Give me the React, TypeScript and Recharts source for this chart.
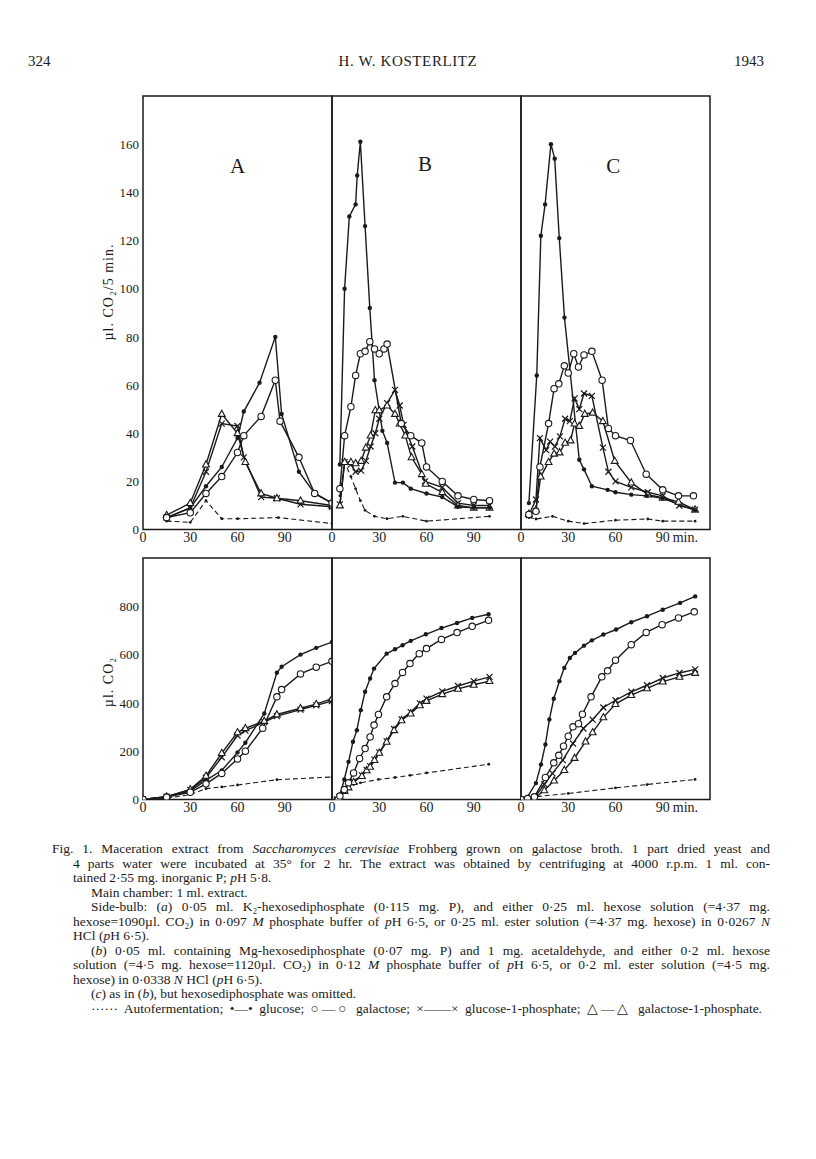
import React from "react";
import { LineChart, Line, XAxis, YAxis, ReferenceArea, ReferenceDot } from "recharts";

type Pt = [number, number];
type Kind = "auto" | "glucose" | "galactose" | "g1p" | "gal1p";

// shared axes
const TIME_TICKS = [0, 30, 60, 90];
const INNER_TIME_TICKS = [30, 60, 90];
const RATE_TICKS = [0, 20, 40, 60, 80, 100, 120, 140, 160];
const TOTAL_TICKS = [0, 200, 400, 600, 800];

// upper row: µl. CO2 / 5 min   [min, value]
const rateA_auto: Pt[] = [[15, 3.5], [30, 3], [40, 12], [50, 4.5], [60, 4.5], [86, 5], [120, 2.5]];
const rateA_glucose: Pt[] = [[15, 5], [30, 9], [40, 18], [50, 26], [60, 38], [64, 49], [74, 61], [84, 80], [88, 48], [99, 24], [109, 15], [120, 11]];
const rateA_galactose: Pt[] = [[15, 5], [30, 7], [40, 15], [50, 22], [60, 32], [64, 39], [75, 47], [84, 62], [87, 45], [99, 30], [109, 15], [120, 11]];
const rateA_g1p: Pt[] = [[15, 5], [30, 9], [40, 24], [50, 44], [60, 43], [64, 30], [75, 13.5], [85, 13], [100, 10.5], [120, 9.5]];
const rateA_gal1p: Pt[] = [[15, 6], [30, 11], [40, 27], [50, 48], [60, 40], [65, 28], [75, 15], [85, 13], [100, 12], [120, 10]];

const rateB_auto: Pt[] = [[5, 14], [8, 28], [12, 22], [15, 17], [18, 12], [21, 8], [27, 5.5], [35, 4.5], [45, 5.5], [60, 3.5], [100, 5.5]];
const rateB_glucose: Pt[] = [[5, 27], [8, 100], [11, 130], [15, 135], [16, 147], [18, 161], [21, 126], [24, 92], [27, 62], [32, 41], [35, 36], [40, 19.5], [45, 19.5], [50, 17], [60, 15], [70, 13.5], [80, 9.5], [90, 9], [100, 9]];
const rateB_galactose: Pt[] = [[5, 17], [8, 39], [12, 51], [15, 64], [18, 73], [21, 74], [24, 78], [27, 75], [30, 73], [33, 75], [35, 77], [44, 44], [50, 39], [57, 36], [60, 26], [70, 20], [80, 14], [90, 12.5], [100, 12]];
const rateB_g1p: Pt[] = [[5, 10.5], [8, 28], [12, 27], [15, 24], [18.5, 24.5], [21.5, 28.5], [24.5, 34.5], [27.5, 40], [30, 46], [35, 52.5], [40, 58], [43, 51.5], [45.5, 43.5], [51, 34.5], [59, 20], [70, 17.5], [80, 11], [90, 10], [100, 10]];
const rateB_gal1p: Pt[] = [[5, 10], [8, 28], [12, 28], [15, 27.5], [18.5, 28.5], [21.5, 34], [24.5, 39], [27.5, 49.5], [30, 49.5], [35, 51.5], [40, 48], [43, 44], [46.5, 39], [50.5, 30], [57, 23], [59.5, 19], [70, 15.5], [80, 10], [90, 9], [100, 9]];

const rateC_auto: Pt[] = [[5, 5], [9.5, 4.4], [20, 5.5], [30, 3.5], [40, 2.5], [60, 3.9], [80.5, 4.4], [90, 3.5], [110.5, 3.5]];
const rateC_glucose: Pt[] = [[5, 11], [10, 64], [12.6, 122], [15.3, 135], [19, 160], [21.4, 154], [24.3, 121], [27.6, 88], [37, 29], [40, 25], [45, 18], [55, 16.5], [60, 15.5], [70, 14.5], [80, 14], [90, 13], [110.5, 8]];
const rateC_galactose: Pt[] = [[5, 6.3], [9.5, 7.6], [12, 26], [17.5, 44], [21, 58.5], [24, 60.5], [27.5, 68], [30, 65], [33.5, 73], [36.5, 67.5], [40, 72.5], [45, 74], [51.5, 62], [55.5, 42], [60, 39], [69.5, 37], [79.5, 23], [90, 16.5], [100, 14], [109.5, 14]];
const rateC_g1p: Pt[] = [[5, 6], [9.5, 12.5], [12, 38], [16, 33], [18.5, 36.5], [21.6, 34.5], [24.7, 38.7], [28, 46], [31, 45], [34, 54.5], [37, 50], [40, 56.5], [45, 55.5], [52, 34], [55.5, 24], [60, 20], [70, 17.5], [80.5, 15.5], [90, 14], [100.5, 10], [110.5, 8.3]];
const rateC_gal1p: Pt[] = [[5, 6.5], [9.5, 8.3], [12.5, 22], [17.5, 28], [21, 31.5], [24.5, 32], [28, 36], [31.5, 37], [34, 44], [37, 43], [40.5, 48], [45.5, 48.5], [52, 45], [59.5, 28.5], [70, 19.5], [80.5, 14.5], [90, 13.2], [100, 11.5], [110.5, 8.3]];

// lower row: total µl. CO2
const totalA_auto: Pt[] = [[0, 0], [15, 5], [30, 20], [40, 45], [50, 52], [60, 60], [85, 82], [120, 93]];
const totalA_glucose: Pt[] = [[0, 0], [15, 12], [30, 35], [40, 80], [50, 120], [60, 195], [65, 235], [77, 356], [85, 525], [88, 550], [100, 600], [110, 628], [120, 652]];
const totalA_galactose: Pt[] = [[0, 0], [15, 10], [30, 30], [40, 65], [50, 108], [60, 168], [65, 200], [76, 295], [85, 425], [88, 455], [100, 520], [110, 548], [120, 572]];
const totalA_g1p: Pt[] = [[0, 0], [15, 12], [30, 40], [40, 90], [50, 175], [60, 265], [65, 285], [77, 320], [85, 345], [100, 372], [110, 390], [120, 408]];
const totalA_gal1p: Pt[] = [[0, 0], [15, 12], [30, 42], [40, 98], [50, 192], [60, 278], [65, 295], [77, 325], [85, 352], [100, 378], [110, 395], [120, 418]];

const totalB_auto: Pt[] = [[2, 0], [5, 18], [8, 45], [10.5, 55], [13.7, 62], [18, 69], [29.5, 83], [40, 91], [49.5, 100], [60, 110], [99.5, 146]];
const totalB_glucose: Pt[] = [[3, 0], [4.8, 14], [7.8, 83], [10.5, 156], [13.3, 239], [15.8, 287], [18.3, 370], [21, 446], [24.2, 501], [26.7, 542], [34.7, 604], [40, 622], [44.8, 639], [50, 657], [59.6, 684], [69.5, 710], [79.4, 731], [89, 752], [99.4, 767]];
const totalB_galactose: Pt[] = [[4, 0], [5, 14], [7.8, 41], [10.5, 69], [13.7, 110], [17.5, 170], [21, 211], [24.2, 259], [26.7, 308], [29.5, 352], [34.7, 425], [40, 480], [44.8, 526], [49.5, 563], [55.4, 604], [60, 625], [69.5, 663], [79.4, 691], [89, 717], [99.4, 742]];
const totalB_g1p: Pt[] = [[3, 0], [5, 12], [8, 38], [10.5, 52], [13.7, 74], [19, 100], [22, 122], [24.2, 138], [27, 165], [30, 195], [34.7, 242], [39.4, 292], [44.2, 332], [50, 362], [55.8, 398], [60, 418], [70, 448], [80, 470], [90, 490], [100, 508]];
const totalB_gal1p: Pt[] = [[3, 0], [5, 10], [8, 35], [10.5, 50], [13.7, 72], [19, 97], [22, 121], [24.2, 135], [27, 163], [30, 193], [34.7, 239], [39.4, 287], [44.2, 328], [50, 356], [55.8, 390], [60, 408], [70, 436], [80, 458], [90, 475], [100, 490]];

const totalC_auto: Pt[] = [[0, 0], [10, 12], [30, 25], [60, 48], [80, 62], [110.5, 83]];
const totalC_glucose: Pt[] = [[0, 0], [4, 10], [9.5, 68], [12.7, 145], [15.5, 228], [18, 331], [20.8, 417], [24.4, 490], [27.5, 545], [31, 586], [34.3, 607], [40, 637], [45, 659], [52.3, 683], [60.4, 704], [70, 734], [80, 759], [90, 786], [101, 814], [110.6, 841]];
const totalC_galactose: Pt[] = [[0, 0], [4.2, 4], [8.5, 11], [15.5, 91], [20.8, 152], [24, 183], [27, 221], [30, 262], [33, 301], [36.5, 314], [39, 353], [44.5, 425], [51.3, 508], [55, 533], [60, 577], [70, 641], [79.5, 692], [89.6, 724], [100, 752], [110, 777]];
const totalC_g1p: Pt[] = [[0, 0], [8.5, 7], [14.8, 63], [20, 108], [26.5, 163], [33, 232], [39.6, 294], [45.5, 331], [52.3, 381], [60, 411], [70, 446], [80, 473], [90, 503], [100.6, 524], [110.6, 539]];
const totalC_gal1p: Pt[] = [[0, 0], [8.5, 4], [14.8, 38], [21, 78], [27.5, 122], [34, 172], [41, 240], [45.5, 278], [52.3, 340], [60, 395], [70, 432], [80, 460], [90, 488], [100.6, 508], [110.6, 524]];

const INK = "#1a1a1a";
const FONT = '"Liberation Serif", "Times New Roman", serif';
const PW = 189;
const PAD = 4;
const XH = 22;
const TOP_Y = 96.4;
const TOP_H = 433.6;
const BOT_Y = 557.5;
const BOT_H = 241.5;

const rows = (pts: Pt[]) => pts.map(([t, v]) => ({ t, v }));

const renderDot = (kind: Kind) => (p: any) => {
  const { cx, cy, index } = p;
  const k = `${kind}-${index}`;
  if (cx == null || cy == null) return <g key={k} />;
  if (kind === "glucose") return <circle key={k} cx={cx} cy={cy} r={2.2} fill={INK} />;
  if (kind === "auto") return <circle key={k} cx={cx} cy={cy} r={1.4} fill={INK} />;
  if (kind === "galactose")
    return <circle key={k} cx={cx} cy={cy} r={3.2} fill="#fff" stroke={INK} strokeWidth={1.1} />;
  if (kind === "g1p")
    return (
      <path key={k} d={`M${cx - 3},${cy - 3}L${cx + 3},${cy + 3}M${cx - 3},${cy + 3}L${cx + 3},${cy - 3}`} stroke={INK} strokeWidth={1.2} />
    );
  return (
    <path key={k} d={`M${cx},${cy - 3.8}L${cx + 3.4},${cy + 2.4}L${cx - 3.4},${cy + 2.4}Z`} fill="#fff" stroke={INK} strokeWidth={1.1} />
  );
};

const EmptyTick = () => <g />;

const TimeTick = (p: any) => {
  const { x, y, payload, showMin } = p;
  return (
    <g>
      <text x={x} y={y} dy={12} textAnchor="middle" fontFamily={FONT} fontSize={14} fill={INK}>
        {payload.value}
      </text>
      {showMin && payload.value === 90 && (
        <text x={x + 10} y={y} dy={12} textAnchor="start" fontFamily={FONT} fontSize={14} fill={INK}>
          min.
        </text>
      )}
    </g>
  );
};

type SeriesDef = { kind: Kind; pts: Pt[] };

function Panel(props: {
  plotLeft: number;
  plotTop: number;
  plotH: number;
  yMax: number;
  yTicks: number[];
  series: SeriesDef[];
  labels?: boolean;
  letter?: { text: string; at: Pt };
  showMin?: boolean;
}) {
  const { plotLeft, plotTop, plotH, yMax, yTicks, series, labels, letter, showMin } = props;
  const leftW = labels ? 50 : PAD;
  const inner = yTicks.filter((v) => v > 0);
  const tickLine = { stroke: INK, strokeWidth: 1.3 };
  return (
    <div style={{ position: "absolute", left: plotLeft - leftW, top: plotTop - PAD }}>
      <LineChart
        width={leftW + PW + PAD}
        height={PAD + plotH + XH}
        margin={{ top: PAD, right: PAD, bottom: 0, left: labels ? 0 : PAD }}
      >
        <XAxis xAxisId="t" dataKey="t" type="number" domain={[0, 120]} ticks={TIME_TICKS} interval={0}
          allowDataOverflow height={XH} tickLine={false} axisLine={false} tickSize={0} tickMargin={0}
          tick={<TimeTick showMin={showMin} />} />
        <XAxis xAxisId="top" orientation="top" mirror type="number" domain={[0, 120]} ticks={INNER_TIME_TICKS}
          interval={0} axisLine={false} tickSize={8} tickLine={tickLine} tick={EmptyTick} />
        <XAxis xAxisId="bot" orientation="bottom" mirror type="number" domain={[0, 120]} ticks={INNER_TIME_TICKS}
          interval={0} axisLine={false} tickSize={5} tickLine={tickLine} tick={EmptyTick} />
        <YAxis yAxisId="v" type="number" domain={[0, yMax]} ticks={yTicks} interval={0} allowDataOverflow
          width={labels ? 50 : 0} hide={!labels} tickLine={false} axisLine={false} tickSize={0} tickMargin={4}
          tick={{ fontFamily: FONT, fontSize: 13, fill: INK }} />
        <YAxis yAxisId="l" orientation="left" mirror type="number" domain={[0, yMax]} ticks={inner} interval={0}
          axisLine={false} tickSize={7} tickLine={tickLine} tick={EmptyTick} />
        <YAxis yAxisId="r" orientation="right" mirror type="number" domain={[0, yMax]} ticks={inner} interval={0}
          axisLine={false} tickSize={7} tickLine={tickLine} tick={EmptyTick} />
        <ReferenceArea xAxisId="t" yAxisId="v" x1={0} x2={120} y1={0} y2={yMax} fill="none" fillOpacity={0}
          stroke={INK} strokeWidth={1.5} ifOverflow="visible" />
        {series.map((s, i) => (
          <Line
            key={s.kind + i}
            xAxisId="t"
            yAxisId="v"
            data={rows(s.pts)}
            dataKey="v"
            type="linear"
            stroke={INK}
            strokeWidth={s.kind === "auto" ? 1.1 : 1.4}
            strokeDasharray={s.kind === "auto" ? "5 3" : undefined}
            dot={renderDot(s.kind)}
            activeDot={false}
            isAnimationActive={false}
          />
        ))}
        {letter && (
          <ReferenceDot xAxisId="t" yAxisId="v" x={letter.at[0]} y={letter.at[1]} r={1} fill="none" stroke="none"
            label={{ value: letter.text, position: "center", fontFamily: FONT, fontSize: 21, fill: INK }} />
        )}
      </LineChart>
    </div>
  );
}

const set = (auto: Pt[], g1p: Pt[], gal1p: Pt[], glucose: Pt[], galactose: Pt[]): SeriesDef[] => [
  { kind: "auto", pts: auto },
  { kind: "g1p", pts: g1p },
  { kind: "gal1p", pts: gal1p },
  { kind: "glucose", pts: glucose },
  { kind: "galactose", pts: galactose },
];

const I = (s: string) => <i>{s}</i>;

const CAPTION: { x: number; justify?: boolean; right?: number; content: React.ReactNode }[] = [
  { x: 52, justify: true, content: <>Fig. 1. Maceration extract from {I("Saccharomyces cerevisiae")} Frohberg grown on galactose broth. 1 part dried yeast and</> },
  { x: 73, justify: true, content: <>4 parts water were incubated at 35° for 2 hr. The extract was obtained by centrifuging at 4000 r.p.m. 1 ml. con-</> },
  { x: 73, content: <>tained 2·55 mg. inorganic P; {I("p")}H 5·8.</> },
  { x: 91, content: <>Main chamber: 1 ml. extract.</> },
  { x: 91, justify: true, content: <>Side-bulb: ({I("a")}) 0·05 ml. K₂-hexosediphosphate (0·115 mg. P), and either 0·25 ml. hexose solution (=4·37 mg.</> },
  { x: 73, justify: true, content: <>hexose=1090µl. CO₂) in 0·097 {I("M")} phosphate buffer of {I("p")}H 6·5, or 0·25 ml. ester solution (=4·37 mg. hexose) in 0·0267 {I("N")}</> },
  { x: 73, content: <>HCl ({I("p")}H 6·5).</> },
  { x: 91, justify: true, content: <>({I("b")}) 0·05 ml. containing Mg-hexosediphosphate (0·07 mg. P) and 1 mg. acetaldehyde, and either 0·2 ml. hexose</> },
  { x: 73, justify: true, content: <>solution (=4·5 mg. hexose=1120µl. CO₂) in 0·12 {I("M")} phosphate buffer of {I("p")}H 6·5, or 0·2 ml. ester solution (=4·5 mg.</> },
  { x: 73, content: <>hexose) in 0·0338 {I("N")} HCl ({I("p")}H 6·5).</> },
  { x: 91, content: <>({I("c")}) as in ({I("b")}), but hexosediphosphate was omitted.</> },
  { x: 91, justify: true, right: 762, content: <>······ Autofermentation; •—•&nbsp;glucose; ○—○&nbsp;galactose; ×——×&nbsp;glucose-1-phosphate; △—△&nbsp;galactose-1-phosphate.</> },
];

export default function App() {
  const colL = 143;
  const colB = colL + PW;
  const colC = colB + PW;
  const title: React.CSSProperties = {
    position: "absolute",
    transform: "translate(-50%, -50%) rotate(-90deg)",
    whiteSpace: "nowrap",
    fontSize: 14,
    letterSpacing: 1,
  };
  return (
    <div style={{ position: "absolute", left: 0, top: 0, width: 816, height: 1159, background: "#fff", color: INK, fontFamily: FONT }}>
      {/* running head */}
      <div style={{ position: "absolute", left: 28, top: 53, fontSize: 15 }}>324</div>
      <div style={{ position: "absolute", left: 0, width: 816, top: 53, fontSize: 15, textAlign: "center", letterSpacing: 0.6 }}>
        H. W. KOSTERLITZ
      </div>
      <div style={{ position: "absolute", left: 734, top: 53, fontSize: 15 }}>1943</div>

      {/* axis titles */}
      <div style={{ ...title, left: 109, top: 292 }}>µl. CO₂/5 min.</div>
      <div style={{ ...title, left: 109, top: 682 }}>µl. CO₂</div>

      <Panel plotLeft={colL} plotTop={TOP_Y} plotH={TOP_H} yMax={180} yTicks={RATE_TICKS} labels
        letter={{ text: "A", at: [60, 151] }}
        series={set(rateA_auto, rateA_g1p, rateA_gal1p, rateA_glucose, rateA_galactose)} />
      <Panel plotLeft={colB} plotTop={TOP_Y} plotH={TOP_H} yMax={180} yTicks={RATE_TICKS}
        letter={{ text: "B", at: [59, 152] }}
        series={set(rateB_auto, rateB_g1p, rateB_gal1p, rateB_glucose, rateB_galactose)} />
      <Panel plotLeft={colC} plotTop={TOP_Y} plotH={TOP_H} yMax={180} yTicks={RATE_TICKS} showMin
        letter={{ text: "C", at: [58.5, 151] }}
        series={set(rateC_auto, rateC_g1p, rateC_gal1p, rateC_glucose, rateC_galactose)} />

      <Panel plotLeft={colL} plotTop={BOT_Y} plotH={BOT_H} yMax={1000} yTicks={TOTAL_TICKS} labels
        series={set(totalA_auto, totalA_g1p, totalA_gal1p, totalA_glucose, totalA_galactose)} />
      <Panel plotLeft={colB} plotTop={BOT_Y} plotH={BOT_H} yMax={1000} yTicks={TOTAL_TICKS}
        series={set(totalB_auto, totalB_g1p, totalB_gal1p, totalB_glucose, totalB_galactose)} />
      <Panel plotLeft={colC} plotTop={BOT_Y} plotH={BOT_H} yMax={1000} yTicks={TOTAL_TICKS} showMin
        series={set(totalC_auto, totalC_g1p, totalC_gal1p, totalC_glucose, totalC_galactose)} />

      {/* legend / caption */}
      {CAPTION.map((line, i) => (
        <div
          key={i}
          style={{
            position: "absolute",
            left: line.x,
            width: (line.right ?? 770) - line.x,
            top: 841 + i * 14.5,
            fontSize: 13.5,
            lineHeight: "15px",
            whiteSpace: "nowrap",
            textAlign: line.justify ? "justify" : "left",
            textAlignLast: line.justify ? "justify" : "left",
          }}
        >
          {line.content}
        </div>
      ))}
    </div>
  );
}
